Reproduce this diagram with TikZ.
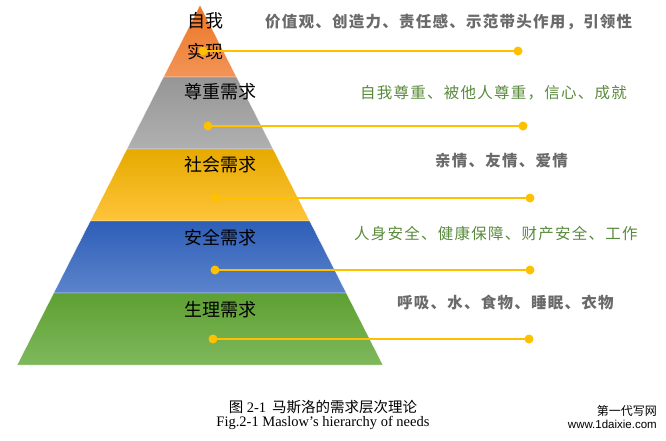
\documentclass[tikz,border=0pt]{standalone}
\usepackage{fontspec}
\setmainfont{Liberation Serif}
\newfontfamily\cjk{Noto Sans CJK SC}
\newfontfamily\cjksp{Noto Sans CJK SC}[LetterSpace=8]
\newfontfamily\wmfont{Liberation Sans}
\definecolor{dotc}{HTML}{FFC000}
\definecolor{graytxt}{HTML}{6A6A6A}
\definecolor{greentxt}{HTML}{5A8A3C}
\tikzset{
  layer/.style={draw=white, line width=0.4pt},
  lvl/.style={font=\cjk\fontsize{18}{18}\selectfont, text=black, inner sep=0pt},
  boldtxt/.style={font=\cjksp\bfseries\fontsize{15.5}{15.5}\selectfont, text=graytxt, inner sep=0pt, anchor=west},
  lighttxt/.style={font=\cjksp\fontsize{15.5}{15.5}\selectfont, text=greentxt, inner sep=0pt, anchor=west},
  dot/.style={circle, fill=dotc, inner sep=0pt, minimum size=9pt},
  conn/.style={draw=dotc, line width=2pt},
  connthin/.style={draw=dotc, line width=1.1pt},
}
\begin{document}
\begin{tikzpicture}[x=1pt,y=-1pt]
\useasboundingbox (0,0) rectangle (666,440);
% layers (apex at (200,5), base at y=365)
\shade[layer, top color={rgb,255:red,236;green,118;blue,36}, bottom color={rgb,255:red,242;green,148;blue,88}]
  (200,5) -- (236.6,77) -- (163.4,77) -- cycle;
\shade[layer, top color={rgb,255:red,150;green,150;blue,150}, bottom color={rgb,255:red,176;green,176;blue,176}]
  (163.4,77) -- (236.6,77) -- (273.2,149) -- (126.8,149) -- cycle;
\shade[layer, top color={rgb,255:red,230;green,170;blue,0}, bottom color={rgb,255:red,255;green,196;blue,58}]
  (126.8,149) -- (273.2,149) -- (309.8,221) -- (90.2,221) -- cycle;
\shade[layer, top color={rgb,255:red,46;green,94;blue,184}, bottom color={rgb,255:red,92;green,132;blue,204}]
  (90.2,221) -- (309.8,221) -- (346.4,293) -- (53.6,293) -- cycle;
\shade[layer, top color={rgb,255:red,94;green,160;blue,50}, bottom color={rgb,255:red,126;green,184;blue,92}]
  (53.6,293) -- (346.4,293) -- (383,365) -- (17,365) -- cycle;

% level labels
\node[lvl] (l1a) at (205,21) {自我};
\node[lvl] (l1b) at (205,52) {实现};
\node[lvl] (l2) at (220,92) {尊重需求};
\node[lvl] (l3) at (220,165) {社会需求};
\node[lvl] (l4) at (220,238) {安全需求};
\node[lvl] (l5) at (220,310) {生理需求};

% connectors
\node[dot] (d1a) at (203,51) {};
\node[dot] (d1b) at (518,51) {};
\node[dot] (d2a) at (208,126) {};
\node[dot] (d2b) at (523,126) {};
\node[dot] (d3a) at (216,198) {};
\node[dot] (d3b) at (530,198) {};
\node[dot] (d4a) at (215,270) {};
\node[dot] (d4b) at (530,270) {};
\node[dot] (d5a) at (213,339) {};
\node[dot] (d5b) at (529,339) {};
\draw[connthin] (d1a.center) -- (d1b.center);
\draw[conn] (d2a.center) -- (d2b.center);
\draw[conn] (d3a.center) -- (d3b.center);
\draw[conn] (d4a.center) -- (d4b.center);
\draw[conn] (d5a.center) -- (d5b.center);

% descriptions
\node[boldtxt] (t1) at (265,22) {价值观、创造力、责任感、示范带头作用，引领性};
\node[lighttxt] (t2) at (360,93) {自我尊重、被他人尊重，信心、成就};
\node[boldtxt] (t3) at (435,161) {亲情、友情、爱情};
\node[lighttxt] (t4) at (354,234) {人身安全、健康保障、财产安全、工作};
\node[boldtxt] (t5) at (397,303) {呼吸、水、食物、睡眠、衣物};

% caption
\node[inner sep=0pt, font=\fontsize{14.5}{14.5}\selectfont] (cap1) at (323,407) {{\cjk 图} 2-1\hspace{6pt}{\cjk 马斯洛的需求层次理论}};
\node[inner sep=0pt, font=\fontsize{14.5}{14.5}\selectfont] (cap2) at (323,423) {Fig.2-1 Maslow's hierarchy of needs};

% watermark
\node[inner sep=0pt, anchor=east, font=\cjk\fontsize{12}{12}\selectfont] (wm1) at (657,411) {第一代写网};
\node[inner sep=0pt, anchor=east, font=\wmfont\fontsize{11.5}{11.5}\selectfont] (wm2) at (657,424) {www.1daixie.com};
\end{tikzpicture}
\end{document}
